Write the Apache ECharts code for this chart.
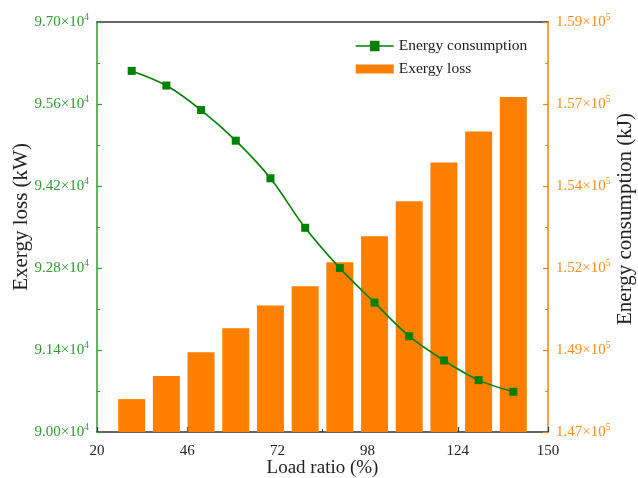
<!DOCTYPE html>
<html>
<head>
<meta charset="utf-8">
<script src="https://cdn.jsdelivr.net/npm/echarts@6/dist/echarts.min.js"></script>
<style>html,body{margin:0;padding:0;background:#fff;}#c{width:638px;height:478px;}</style>
</head>
<body>
<div id="c"></div>
<script>
const loadRatio = [30, 40, 50, 60, 70, 80, 90, 100, 110, 120, 130, 140];
const exergyLoss = [90562, 90954, 91360, 91770, 92160, 92490, 92900, 93340, 93940, 94600, 95130, 95720];
const energyConsumption = [157569, 157140, 156422, 155526, 154425, 152977, 151797, 150787, 149803, 149093, 148518, 148177];
const leftTicks = ['9.70', '9.56', '9.42', '9.28', '9.14', '9.00'];
const rightTicks = ['1.59', '1.57', '1.54', '1.52', '1.49', '1.47'];
const xTicks = [20, 46, 72, 98, 124, 150];

const FONT = 'Liberation Serif';
const GREEN = '#008000';
const GREEN_TXT = '#2e9e2e';
const ORANGE = '#ff8000';
const ORANGE_TXT = '#ff8c1a';

function sciFmt(v, exp, base) {
  const s = (v / base).toFixed(2);
  return '{a|' + s + '×10}{s|' + exp + '}';
}

const chart = echarts.init(document.getElementById('c'), null, {renderer: 'canvas'});
chart.setOption({
  animation: false,
  backgroundColor: '#fff',
  textStyle: {fontFamily: FONT},
  grid: {left: 97, right: 90, top: 22, bottom: 46, containLabel: false, outerBoundsMode: 'none'},
  legend: {
    orient: 'vertical', left: 350, top: 33, itemWidth: 38, itemHeight: 9, itemGap: 7,
    textStyle: {fontFamily: FONT, fontSize: 15.5, color: '#222'},
    data: [
      {name: 'Energy consumption', icon: 'path://M0,4.5 L38,4.5 M15,0 L23,0 L23,9 L15,9 Z', itemStyle: {color: GREEN, borderColor: GREEN, borderWidth: 1.5}},
      {name: 'Exergy loss', icon: 'rect'}
    ]
  },
  xAxis: [{
    type: 'value', min: 20, max: 150, interval: 26,
    name: 'Load ratio (%)', nameLocation: 'middle', nameGap: 27, nameMoveOverlap: false,
    nameTextStyle: {fontFamily: FONT, fontSize: 19, color: '#222'},
    axisLine: {show: true, onZero: false, lineStyle: {color: '#333', width: 1.5}},
    axisTick: {show: true, inside: true, length: 5, lineStyle: {color: '#333', width: 1.2}},
    minorTick: {show: true, splitNumber: 2, length: 3, lineStyle: {color: '#333'}},
    axisLabel: {fontFamily: FONT, fontSize: 15, color: '#222', margin: 12},
    splitLine: {show: false}
  }, {
    type: 'value', min: 20, max: 150, position: 'top',
    axisLine: {show: true, onZero: false, lineStyle: {color: '#333', width: 1.5}},
    axisTick: {show: false}, axisLabel: {show: false}, splitLine: {show: false}
  }],
  yAxis: [{
    type: 'value', min: 90000, max: 97000, interval: 1400, position: 'left',
    name: 'Exergy loss (kW)', nameLocation: 'middle', nameGap: 65, nameRotate: 90, nameMoveOverlap: false,
    nameTextStyle: {fontFamily: FONT, fontSize: 21, color: '#222', padding: [0, 0, 0, 20]},
    axisLine: {show: true, onZero: false, lineStyle: {color: '#2ca02c', width: 1.5}},
    axisTick: {show: true, inside: true, length: 5, lineStyle: {color: '#2ca02c', width: 1.2}},
    minorTick: {show: true, splitNumber: 2, length: 3, lineStyle: {color: '#2ca02c'}},
    axisLabel: {
      margin: 8,
      formatter: v => sciFmt(v, 4, 1e4),
      rich: {
        a: {fontFamily: FONT, fontSize: 15, color: GREEN_TXT},
        s: {fontFamily: FONT, fontSize: 9.5, color: GREEN_TXT, padding: [0, 0, 9, 0]}
      }
    },
    splitLine: {show: false}
  }, {
    type: 'value', min: 147000, max: 159000, interval: 2400, position: 'right',
    name: 'Energy consumption (kJ)', nameLocation: 'middle', nameGap: 67, nameRotate: 90, nameMoveOverlap: false,
    nameTextStyle: {fontFamily: FONT, fontSize: 21, color: '#222', padding: [0, 0, 0, 16]},
    axisLine: {show: true, onZero: false, lineStyle: {color: ORANGE, width: 1.5}},
    axisTick: {show: true, inside: true, length: 5, lineStyle: {color: ORANGE, width: 1.2}},
    minorTick: {show: true, splitNumber: 2, length: 3, lineStyle: {color: ORANGE}},
    axisLabel: {
      margin: 8,
      formatter: v => sciFmt(v, 5, 1e5),
      rich: {
        a: {fontFamily: FONT, fontSize: 15, color: ORANGE_TXT},
        s: {fontFamily: FONT, fontSize: 9.5, color: ORANGE_TXT, padding: [0, 0, 9, 0]}
      }
    },
    splitLine: {show: false}
  }],
  series: [{
    name: 'Exergy loss', type: 'bar', xAxisIndex: 0, yAxisIndex: 0,
    barWidth: 27, itemStyle: {color: ORANGE}, z: 1,
    data: loadRatio.map((x, i) => [x, exergyLoss[i]])
  }, {
    name: 'Energy consumption', type: 'line', xAxisIndex: 0, yAxisIndex: 1,
    smooth: 0.35, symbol: 'rect', symbolSize: 8, z: 3,
    lineStyle: {color: GREEN, width: 1.6}, itemStyle: {color: GREEN},
    data: loadRatio.map((x, i) => [x, energyConsumption[i]])
  }]
});
</script>
</body>
</html>
